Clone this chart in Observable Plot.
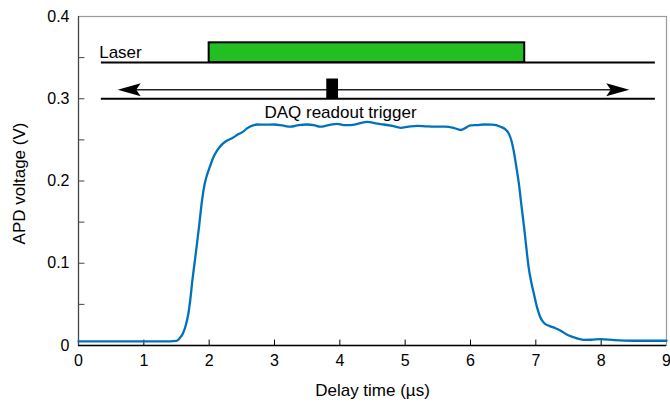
<!DOCTYPE html>
<html><head><meta charset="utf-8">
<script src="https://cdn.jsdelivr.net/npm/d3@7"></script>
<script src="https://cdn.jsdelivr.net/npm/@observablehq/plot@0.6"></script>
<style>html,body{margin:0;padding:0;background:#fff;overflow:hidden;} svg{display:block;}</style>
</head><body><div id="chart"></div>
<script>
// APD signal trace
const time = [0, 0.5, 1.0, 1.4, 1.5, 1.55, 1.6, 1.64, 1.68, 1.71, 1.74, 1.8, 1.85, 1.89, 1.93, 1.97, 2.0, 2.06, 2.12, 2.18, 2.25, 2.35, 2.45, 2.52, 2.58, 2.65, 2.73, 2.85, 2.99, 3.12, 3.245, 3.37, 3.5, 3.6, 3.70, 3.83, 3.96, 4.06, 4.16, 4.3, 4.42, 4.55, 4.67, 4.8, 4.93, 5.05, 5.18, 5.31, 5.44, 5.6, 5.74, 5.85, 6.0, 6.1, 6.2, 6.33, 6.46, 6.53, 6.59, 6.63, 6.66, 6.70, 6.74, 6.78, 6.82, 6.86, 6.89, 6.93, 6.97, 7.02, 7.07, 7.13, 7.2, 7.3, 7.38, 7.48, 7.58, 7.66, 7.73, 7.85, 7.99, 8.2, 8.5, 9.0];
const voltage = [0.005, 0.005, 0.005, 0.005, 0.0055, 0.009, 0.015, 0.024, 0.038, 0.055, 0.077, 0.115, 0.148, 0.176, 0.196, 0.208, 0.215, 0.228, 0.237, 0.243, 0.248, 0.252, 0.257, 0.260, 0.264, 0.267, 0.2687, 0.2685, 0.2687, 0.2675, 0.266, 0.268, 0.2687, 0.268, 0.266, 0.268, 0.2695, 0.268, 0.268, 0.270, 0.272, 0.270, 0.2687, 0.267, 0.2647, 0.266, 0.267, 0.2665, 0.266, 0.266, 0.2647, 0.262, 0.2675, 0.268, 0.2687, 0.2685, 0.266, 0.263, 0.257, 0.248, 0.237, 0.218, 0.197, 0.170, 0.144, 0.115, 0.095, 0.077, 0.063, 0.046, 0.034, 0.027, 0.024, 0.021, 0.018, 0.013, 0.010, 0.008, 0.0069, 0.007, 0.0077, 0.0065, 0.0058, 0.0058];

// axis ticks
const xTickLabels = [0, 1, 2, 3, 4, 5, 6, 7, 8, 9];
const xTickMarks = [1, 2, 3, 4, 5, 6, 7, 8];
const yTickLabels = [0, 0.1, 0.2, 0.3, 0.4];
const yTickMarks = [0.05, 0.1, 0.15, 0.2, 0.25, 0.3, 0.35];

// timing schematic (data units)
const laserLevel = [0.344];
const laserSpan = [0.35, 8.83];
const laserPulse = [2.0, 6.83, 0.344, 0.368];
const triggerLevel = [0.3];
const triggerSpan = [0.35, 8.83];
const readoutArrowLevel = [0.311];
const readoutArrowSpan = [0.6, 8.43];
const triggerPulse = [3.80, 3.98, 0.3, 0.324];
const laserLabel = [{text: "Laser", x: 0.317, y: 0.3498}];
const triggerLabel = [{text: "DAQ readout trigger", x: 4.01, y: 0.276}];

const trace = time.map((t, i) => ({t, v: voltage[i]}));
const tickShape = {draw(c, l) { c.moveTo(0, 0); c.lineTo(0, -l); }};
const headShape = {draw(c) { c.moveTo(0, 0); c.lineTo(-6.5, 23); c.lineTo(0, 18.5); c.lineTo(6.5, 23); c.closePath(); }};

const chart = Plot.plot({
  width: 670, height: 402,
  marginLeft: 78, marginRight: 4, marginTop: 16, marginBottom: 57,
  x: {domain: [0, 9]},
  y: {domain: [0, 0.4]},
  style: {fontFamily: "'Liberation Sans', Arial, Helvetica, sans-serif", fontSize: "16px", color: "black", background: "white"},
  marks: [
    Plot.frame({stroke: "#9a9a9a", strokeWidth: 1.2}),
    Plot.ruleX([0], {stroke: "#444", strokeWidth: 1.2}),
    Plot.ruleY([0], {stroke: "black", strokeWidth: 1.4}),
    Plot.vector(xTickMarks, {x: d => d, y: 0, length: 5.5, rotate: 0, anchor: "start", shape: tickShape, stroke: "black", strokeWidth: 1}),
    Plot.vector(yTickMarks, {x: 0, y: d => d, length: 5.5, rotate: 90, anchor: "start", shape: tickShape, stroke: "#444", strokeWidth: 1}),
    Plot.axisX({ticks: xTickLabels, tickSize: 0, tickPadding: 9, label: null, fontSize: 16, tickFormat: d => String(d)}),
    Plot.axisY({ticks: yTickLabels, tickSize: 0, tickPadding: 9, label: null, fontSize: 16, tickFormat: d => d === 0 ? "0" : d.toFixed(1)}),
    // schematic
    Plot.ruleY(laserLevel, {y: d => d, x1: laserSpan[0], x2: laserSpan[1], stroke: "black", strokeWidth: 2}),
    Plot.rect([laserPulse], {x1: d => d[0], x2: d => d[1], y1: d => d[2], y2: d => d[3], fill: "#22bf22", stroke: "black", strokeWidth: 2}),
    Plot.ruleY(triggerLevel, {y: d => d, x1: triggerSpan[0], x2: triggerSpan[1], stroke: "black", strokeWidth: 2}),
    Plot.ruleY(readoutArrowLevel, {y: d => d, x1: readoutArrowSpan[0] + 0.2, x2: readoutArrowSpan[1] - 0.2, stroke: "#222", strokeWidth: 1.5}),
    Plot.vector([readoutArrowSpan[0]], {x: d => d, y: readoutArrowLevel[0], length: 23, rotate: -90, anchor: "start", shape: headShape, fill: "black", stroke: "none"}),
    Plot.vector([readoutArrowSpan[1]], {x: d => d, y: readoutArrowLevel[0], length: 23, rotate: 90, anchor: "start", shape: headShape, fill: "black", stroke: "none"}),
    Plot.rect([triggerPulse], {x1: d => d[0], x2: d => d[1], y1: d => d[2], y2: d => d[3], fill: "black"}),
    Plot.text(laserLabel, {x: "x", y: "y", text: "text", textAnchor: "start", lineAnchor: "bottom", fontSize: 17, fill: "black"}),
    Plot.text(triggerLabel, {x: "x", y: "y", text: "text", textAnchor: "middle", lineAnchor: "bottom", fontSize: 17, fill: "black"}),
    // trace
    Plot.line(trace, {x: "t", y: "v", stroke: "#0072bd", strokeWidth: 2.3, curve: "monotone-x"}),
    // axis titles
    Plot.text(["Delay time (µs)"], {frameAnchor: "bottom", dy: 50, textAnchor: "middle", lineAnchor: "bottom", fontSize: 17, fill: "black"}),
    Plot.text(["APD voltage (V)"], {frameAnchor: "left", dx: -54, dy: 2.5, rotate: -90, textAnchor: "middle", lineAnchor: "bottom", fontSize: 17, fill: "black"})
  ]
});
document.getElementById("chart").append(chart);
</script></body></html>
